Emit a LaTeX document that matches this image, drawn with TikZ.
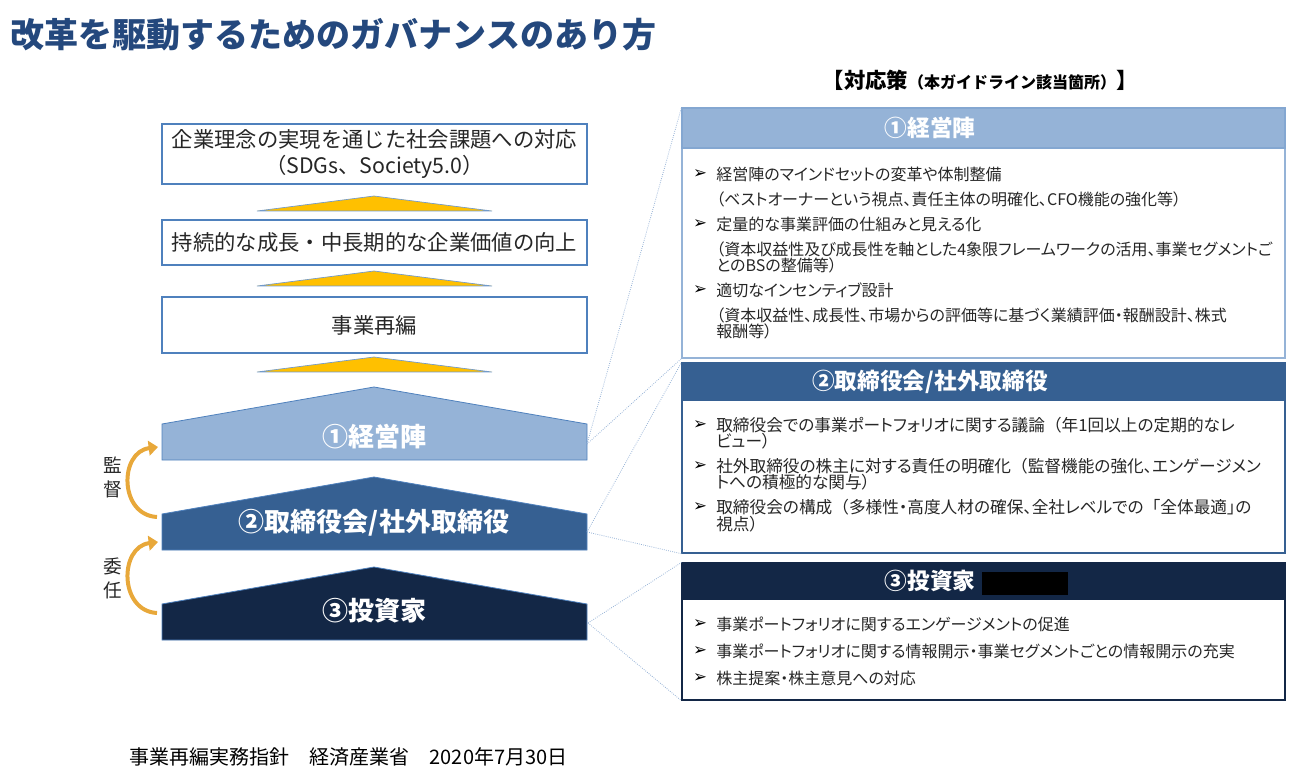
\documentclass[tikz,border=0pt]{standalone}
\usepackage{fontspec}
\setmainfont{Noto Sans CJK JP}
\newfontfamily\bodyfont[RawFeature=+palt]{Noto Sans CJK JP}
\newfontfamily\symfont{DejaVu Sans}
\usetikzlibrary{arrows.meta,fit}

\definecolor{titleblue}{RGB}{36,72,125}
\definecolor{mgmtblue}{RGB}{149,179,215}
\definecolor{boardblue}{RGB}{54,96,146}
\definecolor{invnavy}{RGB}{19,39,70}
\definecolor{edgeblue}{RGB}{79,129,189}
\definecolor{goldtri}{RGB}{255,192,0}
\definecolor{goldarrow}{RGB}{232,168,58}
\definecolor{linkblue}{RGB}{150,178,214}
\definecolor{txtgray}{RGB}{38,38,38}

% full-width punctuation inside palt text
\newcommand{\wlp}{{\normalfont（}}
\newcommand{\wlq}{{\normalfont「}}

\tikzset{
  goalbox/.style={draw=edgeblue, line width=0.8pt, inner sep=0pt},
  goaltext/.style={font=\fontsize{16}{20}\selectfont, text=txtgray, align=center},
  goaltri/.style={fill=goldtri, draw=edgeblue!80, line width=0.5pt},
  pilltext/.style={font=\fontsize{19.5}{22}\selectfont\bfseries, text=white},
  headbar/.style={inner sep=0pt, line width=0.8pt},
  headtext/.style={font=\fontsize{17}{20}\selectfont\bfseries, text=white},
  itemtext/.style={font=\bodyfont\fontsize{12}{14}\selectfont, text=txtgray, anchor=west, inner sep=0pt},
  bigitem/.style={itemtext, font=\bodyfont\fontsize{12.5}{14}\selectfont},
  bullet/.style={font=\symfont\fontsize{12.5}{14}\selectfont, text=black, inner sep=0pt},
  link/.style={linkblue, line width=0.6pt, densely dotted},
  upturn/.style={goldarrow, line width=3pt, -{Triangle[length=7pt,width=11pt]}},
  sidetext/.style={font=\fontsize{14}{18}\selectfont, text=txtgray, align=center}
}

\begin{document}
\begin{tikzpicture}[x=0.75pt, y=-0.75pt]
\useasboundingbox (0,0) rectangle (1299,780);

\node[anchor=west, font=\fontsize{25.5}{28}\selectfont\bfseries, text=titleblue] (title) at (6,35) {改革を駆動するためのガバナンスのあり方};

% goals
\node[goalbox, fit={(162,124) (587,184)}] (vision) {};
\node[goaltext] (visionTxt) at (vision.center) {企業理念の実現を通じた社会課題への対応\\（SDGs、Society5.0）};
\node[goalbox, fit={(162,220) (587,265)}] (value) {};
\node[goaltext] (valueTxt) at (value.center) {持続的な成長・中長期的な企業価値の向上};
\node[goalbox, fit={(162,297) (587,353)}] (reorg) {};
\node[goaltext] (reorgTxt) at (reorg.center) {事業再編};

\foreach \y in {196,271,357}
  \filldraw[goaltri] (257,\y+15) -- (374,\y) -- (492,\y+15) -- cycle;

% the three actors
\foreach \y/\col in {387/mgmtblue,477/boardblue,567/invnavy}
  \filldraw[fill=\col, draw=edgeblue, line width=0.6pt] (162,\y+37) -- (374,\y) -- (587,\y+37) -- (587,\y+73) -- (162,\y+73) -- cycle;
\node[pilltext] (mgmt) at (374,437) {①経営陣};
\node[pilltext] (board) at (374,523) {②取締役会/社外取締役};
\node[pilltext] (inv) at (374,611) {③投資家};

\coordinate (mgmtE) at (587,444);
\coordinate (boardE) at (587,532);
\coordinate (invE) at (588,623);
\coordinate (mgmtIn) at (158,447);
\coordinate (boardOut) at (157,517);
\coordinate (boardIn) at (158,542);
\coordinate (invOut) at (157,613);

\draw[upturn] (boardOut) .. controls (119,515) and (119,452) .. (mgmtIn);
\draw[upturn] (invOut) .. controls (119,611) and (119,547) .. (boardIn);
\node[sidetext] (superv) at (113,477) {監\\督};
\node[sidetext] (appoint) at (113,578) {委\\任};

% measures
\node[font=\bfseries, text=black] (measures) at (980,80) {{\fontsize{16}{18}\selectfont 【対応策}{\fontsize{12}{14}\selectfont （本ガイドライン該当箇所）}{\fontsize{16}{18}\selectfont 】}};

\node[fit={(682,148) (1285,358)}, inner sep=0pt, draw=mgmtblue, line width=1pt] (mgmtBody) {};
\node[fit={(682,108) (1285,148)}, headbar, fill=mgmtblue, draw=edgeblue!70] (mgmtHead) {};
\node[headtext] (mgmtTitle) at (930,128) {①経営陣};

\node[fit={(682,400) (1285,553)}, inner sep=0pt, draw=boardblue, line width=1pt] (boardBody) {};
\node[fit={(682,363) (1285,400)}, headbar, fill=boardblue, draw=boardblue] (boardHead) {};
\node[headtext] (boardTitle) at (930,382) {②取締役会/社外取締役};

\node[fit={(682,599) (1285,700)}, inner sep=0pt, draw=invnavy, line width=1pt] (invBody) {};
\node[fit={(682,563) (1285,599)}, headbar, fill=invnavy, draw=invnavy] (invHead) {};
\node[headtext] (invTitle) at (930,581) {③投資家};
\fill[black] (982,572) rectangle (1068,595);

\draw[link] (mgmtE) -- (mgmtHead.north west);
\draw[link] (mgmtE) -- (mgmtBody.south west);
\draw[link] (boardE) -- (boardHead.north west);
\draw[link] (boardE) -- (boardBody.south west);
\draw[link] (invE) -- (invHead.north west);
\draw[link] (invE) -- (invBody.south west);

\foreach \y/\t [count=\i] in {
  174/{経営陣のマインドセットの変革や体制整備},
  224/{定量的な事業評価の仕組みと見える化},
  290/{適切なインセンティブ設計}} {
  \node[bullet] (mgmtMark\i) at (700,\y) {➢};
  \node[itemtext] (mgmtItem\i) at (716,\y) {\t};
}
\foreach \y/\t [count=\i] in {
  199/{（ベストオーナーという視点、責任主体の明確化、CFO機能の強化等）},
  249/{（資本収益性及び成長性を軸とした4象限フレームワークの活用、事業セグメントご},
  265/{とのBSの整備等）},
  315/{（資本収益性、成長性、市場からの評価等に基づく業績評価・報酬設計、株式},
  331/{報酬等）}}
  \node[itemtext] (mgmtNote\i) at (716,\y) {\t};

\foreach \y/\t [count=\i] in {
  425/{取締役会での事業ポートフォリオに関する議論\wlp 年1回以上の定期的なレ},
  466/{社外取締役の株主に対する責任の明確化\wlp 監督機能の強化、エンゲージメン},
  507/{取締役会の構成\wlp 多様性・高度人材の確保、全社レベルでの\wlq 全体最適」の}} {
  \node[bullet] (boardMark\i) at (700,\y) {➢};
  \node[bigitem] (boardItem\i) at (716,\y) {\t};
}
\foreach \y/\t [count=\i] in {441/{ビュー）}, 482/{トへの積極的な関与）}, 524/{視点）}}
  \node[bigitem] (boardNote\i) at (716,\y) {\t};

\foreach \y/\t [count=\i] in {
  624/{事業ポートフォリオに関するエンゲージメントの促進},
  651/{事業ポートフォリオに関する情報開示・事業セグメントごとの情報開示の充実},
  678/{株主提案・株主意見への対応}} {
  \node[bullet] (invMark\i) at (700,\y) {➢};
  \node[itemtext] (invItem\i) at (716,\y) {\t};
}

\node[anchor=west, font=\fontsize{15}{18}\selectfont, text=black] (source) at (125,757) {事業再編実務指針\hspace{1em}経済産業省\hspace{1em}2020年7月30日};

\end{tikzpicture}
\end{document}
